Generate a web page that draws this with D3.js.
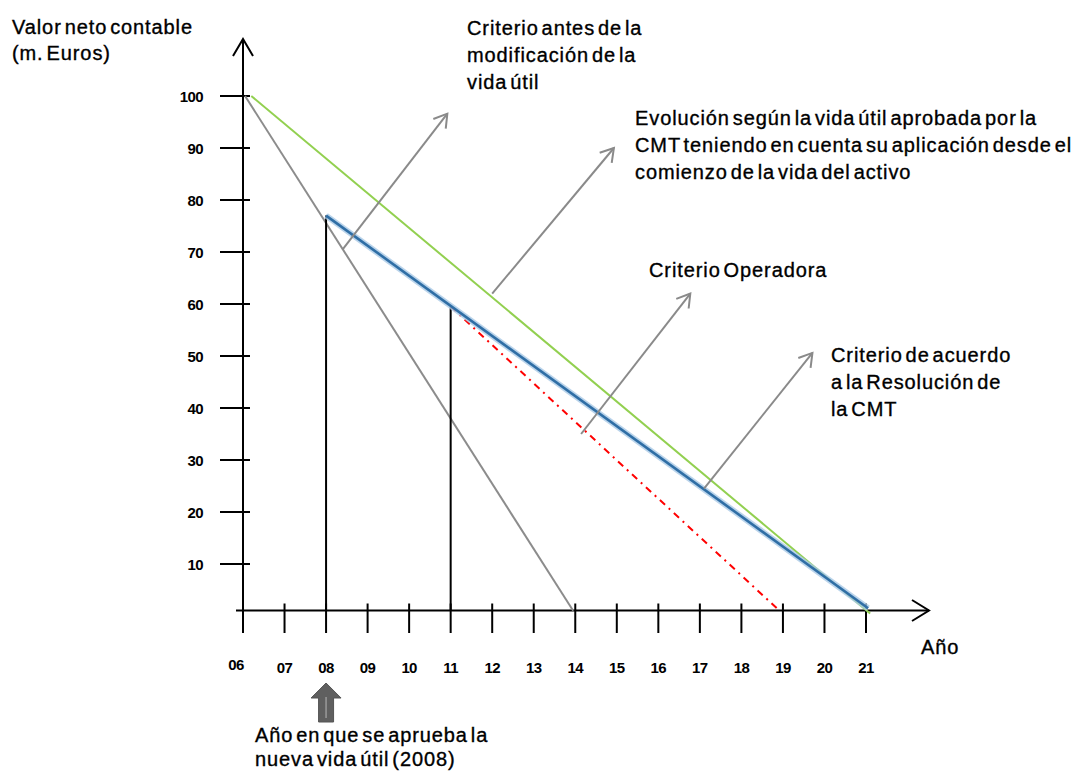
<!DOCTYPE html>
<html>
<head>
<meta charset="utf-8">
<script src="https://cdn.jsdelivr.net/npm/d3@7/dist/d3.min.js"></script>
<style>
  html, body { margin: 0; padding: 0; background: #fff; }
  svg { display: block; }
  .lbl { font-family: "Liberation Sans", Arial, sans-serif; font-size: 20px; letter-spacing: 0.9px; word-spacing: -3.5px; fill: #000; stroke: #000; stroke-width: 0.35px; }
  .tick { font-family: "Liberation Sans", Arial, sans-serif; font-size: 15px; font-weight: bold; letter-spacing: -0.6px; fill: #000; }
</style>
</head>
<body>
<svg id="chart" width="1083" height="771"></svg>
<script>
// ---------- data ----------
const years = ["06","07","08","09","10","11","12","13","14","15","16","17","18","19","20","21"];
const yTicks = [10,20,30,40,50,60,70,80,90,100];

// Line series: [year (from 2000), value in m. Euros]
const criterioAntes   = [[6.05, 100], [13.95, 1]];     // gray
const evolucionCMT    = [[6.2, 100],  [21.1, 0.5]];    // green
const criterioCMT     = [[8, 77],     [21.05, 1.5]];   // blue
const criterioOper    = [[11, 59.5],  [18.92, 1]];     // red dash-dot
const verticales      = [[8, 77], [11, 59.5]];         // black drop lines

// Annotation arrows, from -> to, in data units [year, value]
const annotArrows = [
  [[8.4, 70.5],  [10.92, 96.6]],
  [[12.0, 62.0], [14.93, 90.0]],
  [[14.14, 35.0],[16.77, 62.0]],
  [[17.1, 24.5], [19.71, 50.6]]
];
const annotTexts = [
  ["Criterio antes de la", "modificación de la", "vida útil"],
  ["Evolución según la vida útil aprobada por la", "CMT teniendo en cuenta su aplicación desde el", "comienzo de la vida del activo"],
  ["Criterio Operadora"],
  ["Criterio de acuerdo", "a la Resolución de", "la CMT"]
];
const yTitle = ["Valor neto contable", "(m. Euros)"];
const xTitle = "Año";
const noteText = ["Año en que se aprueba la", "nueva vida útil (2008)"];
const noteYear = 8;

// ---------- layout ----------
const svg = d3.select("#chart");
const x = d3.scaleLinear().domain([6, 21]).range([243, 866]);
const y = d3.scaleLinear().domain([0, 100]).range([616, 96]);
const axisY = 610.5;          // pixel row of the horizontal axis
const axisX = x(6);

const line = d3.line().x(d => x(d[0])).y(d => y(d[1]));

// axes
const axisG = svg.append("g").attr("stroke", "#000").attr("stroke-width", 2).attr("fill", "none");
axisG.append("line").attr("x1", axisX).attr("x2", axisX).attr("y1", 39).attr("y2", 633);
axisG.append("path").attr("d", `M${axisX-10},56 L${axisX},39 L${axisX+10},56`);
axisG.append("line").attr("x1", 236).attr("x2", 929).attr("y1", axisY).attr("y2", axisY);
axisG.append("path").attr("d", `M912,600 L929,${axisY} L912,621`);

// y ticks
yTicks.forEach(t => {
  axisG.append("line").attr("x1", 220).attr("x2", 250).attr("y1", y(t)).attr("y2", y(t));
  svg.append("text").attr("class", "tick").attr("x", 203).attr("y", y(t) + 5.5)
    .attr("text-anchor", "end").text(t);
});
// x ticks
years.forEach((lab, i) => {
  const yr = 6 + i;
  if (i > 0) axisG.append("line").attr("x1", x(yr)).attr("x2", x(yr)).attr("y1", axisY - 7).attr("y2", 633);
  svg.append("text").attr("class", "tick")
    .attr("x", i === 0 ? x(yr) - 7 : x(yr)).attr("y", i === 0 ? 670 : 673)
    .attr("text-anchor", "middle").text(lab);
});

// series
svg.append("path").attr("d", line(evolucionCMT)).attr("fill", "none")
  .attr("stroke", "#92d050").attr("stroke-width", 2);
svg.append("path").attr("d", line(criterioAntes)).attr("fill", "none")
  .attr("stroke", "#8c8c8c").attr("stroke-width", 2);
verticales.forEach(d => {
  svg.append("line").attr("x1", x(d[0])).attr("x2", x(d[0])).attr("y1", y(d[1])).attr("y2", axisY)
    .attr("stroke", "#000").attr("stroke-width", 2);
});
svg.append("path").attr("d", line(criterioOper)).attr("fill", "none")
  .attr("stroke", "#ff0000").attr("stroke-width", 2).attr("stroke-dasharray", "7,5,2,5");
svg.append("path").attr("d", line(criterioCMT)).attr("fill", "none")
  .attr("stroke", "#a9c9e6").attr("stroke-width", 6).attr("stroke-opacity", 0.8);
svg.append("path").attr("d", line(criterioCMT)).attr("fill", "none")
  .attr("stroke", "#2f6ea5").attr("stroke-width", 2.6);

// annotation arrows
annotArrows.forEach(a => {
  const x1 = x(a[0][0]), y1 = y(a[0][1]), x2 = x(a[1][0]), y2 = y(a[1][1]);
  const ang = Math.atan2(y2 - y1, x2 - x1), L = 15, spread = 0.55;
  const g = svg.append("g").attr("stroke", "#8a8a8a").attr("stroke-width", 2).attr("fill", "none");
  g.append("line").attr("x1", x1).attr("y1", y1).attr("x2", x2).attr("y2", y2);
  g.append("path").attr("d",
    `M${x2 - L*Math.cos(ang - spread)},${y2 - L*Math.sin(ang - spread)} L${x2},${y2} L${x2 - L*Math.cos(ang + spread)},${y2 - L*Math.sin(ang + spread)}`);
});

// annotation texts (pixel layout)
const textPos = [[467, 35], [635, 125], [649, 277], [831, 362]];
annotTexts.forEach((lines, i) => {
  const t = svg.append("text").attr("class", "lbl").attr("x", textPos[i][0]).attr("y", textPos[i][1]);
  lines.forEach((s, j) => t.append("tspan").attr("x", textPos[i][0]).attr("dy", j === 0 ? 0 : 27).text(s));
});
// y title
{
  const t = svg.append("text").attr("class", "lbl").attr("x", 12).attr("y", 34);
  yTitle.forEach((s, j) => t.append("tspan").attr("x", 12).attr("dy", j === 0 ? 0 : 26).text(s));
}
// x title
svg.append("text").attr("class", "lbl").attr("x", 921).attr("y", 654).text(xTitle);

// block arrow at approval year
{
  const cx = x(noteYear);
  svg.append("path")
    .attr("d", `M${cx},683 L${cx+15},698 L${cx+7.5},698 L${cx+7.5},722 L${cx-7.5},722 L${cx-7.5},698 L${cx-15},698 Z`)
    .attr("fill", "#5f5f5f").attr("stroke", "#555").attr("stroke-width", 1);
  svg.append("line").attr("x1", cx).attr("x2", cx).attr("y1", 697).attr("y2", 718)
    .attr("stroke", "#9a9a9a").attr("stroke-width", 1.5);
  const t = svg.append("text").attr("class", "lbl").attr("x", 255).attr("y", 742);
  noteText.forEach((s, j) => t.append("tspan").attr("x", 255).attr("dy", j === 0 ? 0 : 24).text(s));
}
</script>
</body>
</html>
